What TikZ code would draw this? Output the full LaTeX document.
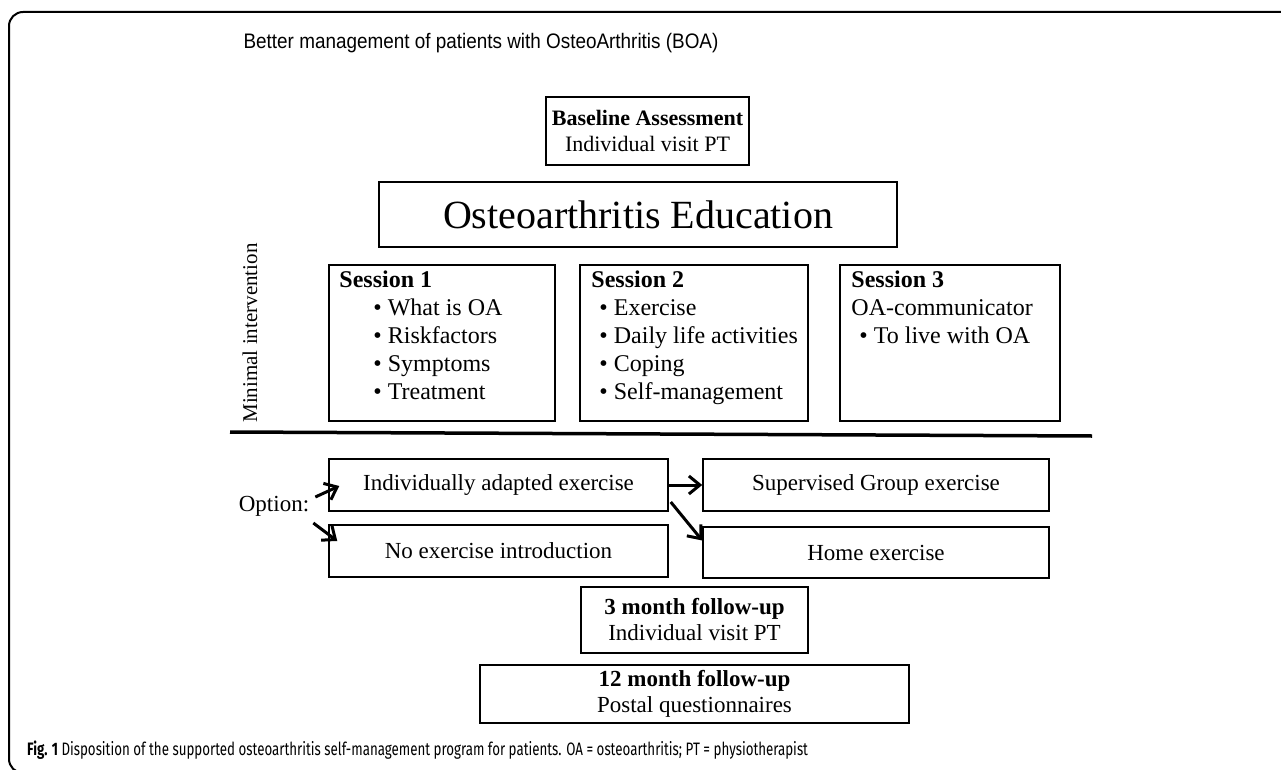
\documentclass[tikz,border=0pt]{standalone}
\usepackage{fontspec}
\setmainfont{Liberation Serif}
\newfontfamily\titlefont[FakeStretch=0.9]{Liberation Sans}
\newfontfamily\capfont[FakeStretch=0.74]{Fira Sans}
\usetikzlibrary{arrows.meta}
\tikzset{
  box/.style={draw, line width=1.5pt, inner sep=0pt, align=center,
              font=\fontsize{23}{26}\selectfont},
  stext/.style={anchor=north west, align=left, inner sep=0pt,
                font=\fontsize{24}{28}\selectfont},
  arr/.style={line width=3pt, -{Straight Barb[length=11pt,width=18pt]}},
}
\begin{document}
\begin{tikzpicture}[x=1pt,y=-1pt]
  \useasboundingbox (0,0) rectangle (1281,770);
  \draw[line width=2pt, rounded corners=14pt] (1300,12) -- (9,12) -- (9,773) -- (60,773);
  \node[font=\titlefont\fontsize{21}{24}\selectfont] (title) at (481,43)
       {Better management of patients with OsteoArthritis (BOA)};

  % top part
  \node[box, minimum width=203, minimum height=68,
        font=\fontsize{22}{26}\selectfont] (base) at (647.5,131)
       {\textbf{Baseline Assessment}\\Individual visit PT};
  \node[box, minimum width=518, minimum height=65,
        font=\fontsize{40}{44}\selectfont] (edu) at (638,214.5) {Osteoarthritis Education};
  \node[rotate=90, font=\fontsize{21}{24}\selectfont] (minimal) at (250,333)
       {Minimal intervention};

  \node[box, minimum width=226, minimum height=156] (s1) at (442,343) {};
  \node[box, minimum width=228, minimum height=156] (s2) at (694,343) {};
  \node[box, minimum width=220, minimum height=156] (s3) at (950,343) {};
  \node[stext] (s1txt) at ([shift={(11,6)}]s1.north west)
       {\textbf{Session 1}\\
        \hspace*{34pt}\textbullet\ What is OA\\
        \hspace*{34pt}\textbullet\ Riskfactors\\
        \hspace*{34pt}\textbullet\ Symptoms\\
        \hspace*{34pt}\textbullet\ Treatment};
  \node[stext] (s2txt) at ([shift={(12,6)}]s2.north west)
       {\textbf{Session 2}\\
        \hspace*{8pt}\textbullet\ Exercise\\
        \hspace*{8pt}\textbullet\ Daily life activities\\
        \hspace*{8pt}\textbullet\ Coping\\
        \hspace*{8pt}\textbullet\ Self-management};
  \node[stext] (s3txt) at ([shift={(12,6)}]s3.north west)
       {\textbf{Session 3}\\
        OA-communicator\\
        \hspace*{8pt}\textbullet\ To live with OA};

  \draw[line width=3.5pt] (230,432) -- (1092,436);

  % exercise options
  \node[box, minimum width=339, minimum height=52] (indiv) at (498.5,485)
       {Individually adapted exercise};
  \node[box, minimum width=339, minimum height=52] (noex) at (498.5,551)
       {No exercise introduction};
  \node[box, minimum width=346, minimum height=52] (supv) at (876,485)
       {Supervised Group exercise};
  \node[box, minimum width=346, minimum height=51] (home) at (876,552.5)
       {Home exercise};
  \node[inner sep=0pt, font=\fontsize{23}{26}\selectfont] (option) at (274,506) {Option:};
  \draw[arr] ([shift={(6,-9)}]option.east) -- ([shift={(11,1)}]indiv.west);
  \draw[arr] ([shift={(4,17)}]option.east) -- ([shift={(9,-10)}]noex.west);
  \draw[arr] (indiv.east) -- (supv.west);
  \draw[arr] ([shift={(2,17)}]indiv.east) -- ([shift={(0,-12)}]home.west);

  % follow-up
  \node[box, minimum width=227, minimum height=66] (fu3) at (694.5,620)
       {\textbf{3 month follow-up}\\Individual visit PT};
  \node[box, minimum width=429, minimum height=58] (fu12) at (694.5,694)
       {\textbf{12 month follow-up}\\Postal questionnaires};

  \node[anchor=base west, inner sep=0pt, font=\capfont\fontsize{18}{22}\selectfont] (caption) at (27,755)
       {\textbf{Fig. 1} Disposition of the supported osteoarthritis self-management program for patients. OA = osteoarthritis; PT = physiotherapist};
\end{tikzpicture}
\end{document}
